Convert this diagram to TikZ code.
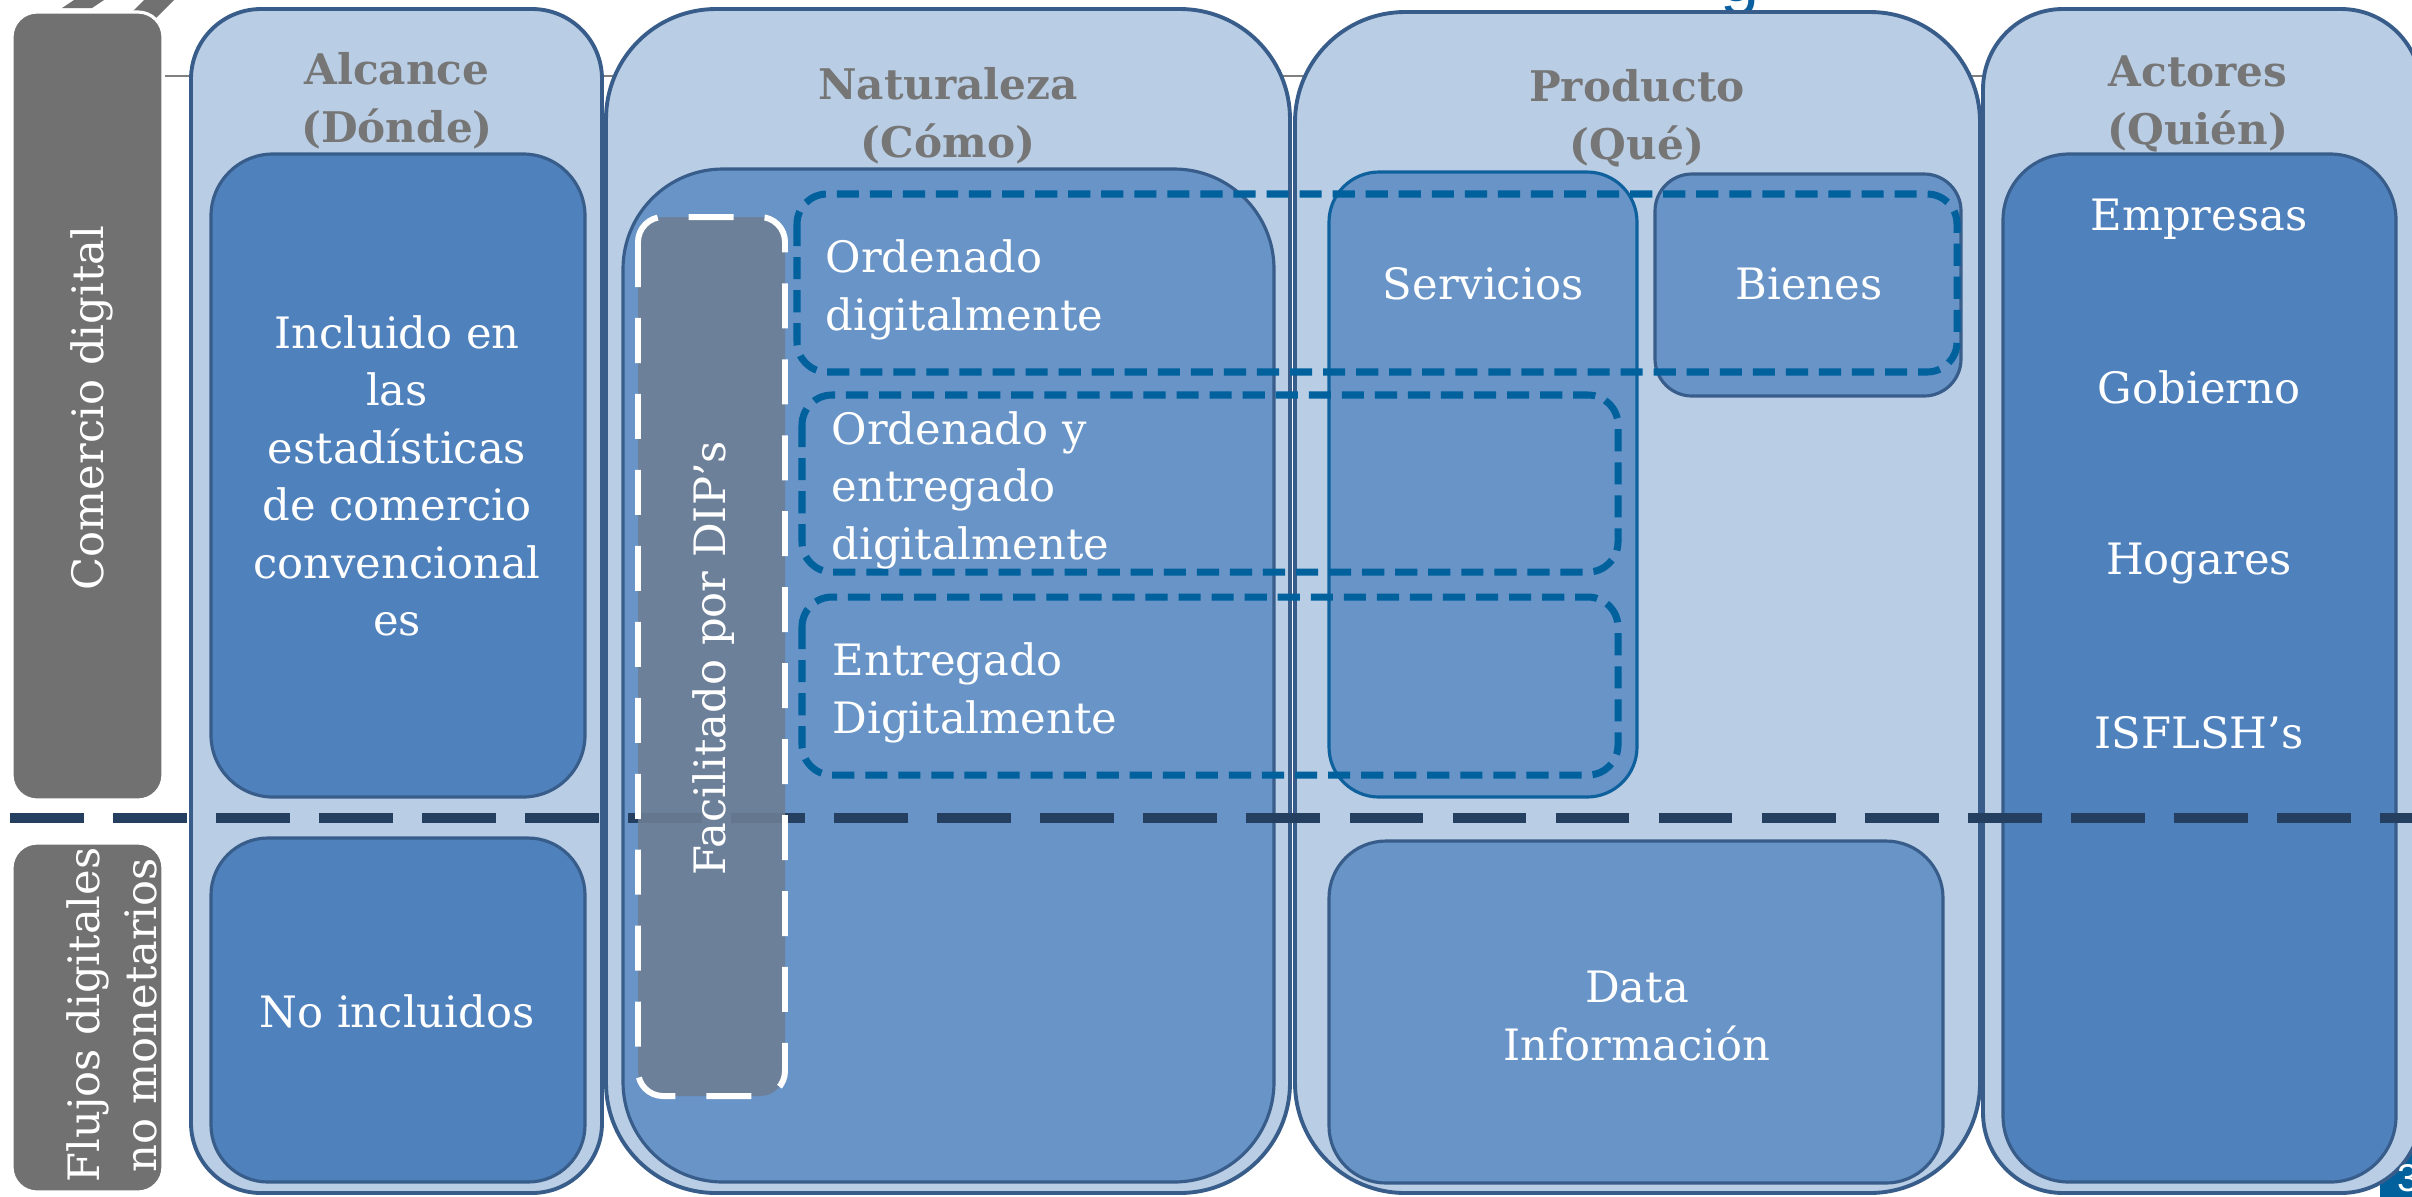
\documentclass[tikz,border=0pt]{standalone}
\usepackage{fontspec}
\setmainfont{DejaVu Serif}
\setsansfont{Liberation Sans}

\definecolor{colLight}{HTML}{B9CDE5}
\definecolor{colBorder}{HTML}{385D8A}
\definecolor{innerDark}{HTML}{4F81BD}
\definecolor{innerMid}{HTML}{6894C7}
\definecolor{servBorder}{HTML}{0F619D}
\definecolor{dashBlue}{HTML}{00619D}
\definecolor{navyLine}{HTML}{243F60}
\definecolor{tabGray}{HTML}{717171}
\definecolor{facGray}{HTML}{6D7E94}
\definecolor{headGray}{HTML}{767676}
\definecolor{titleBlue}{HTML}{0A5FA0}

\begin{document}
\begin{tikzpicture}[x=0.01cm,y=-0.01cm,
    colbox/.style={fill=colLight,draw=colBorder,line width=1.1pt},
    darkbox/.style={fill=innerDark,draw=colBorder,line width=0.9pt},
    midbox/.style={fill=innerMid,draw=colBorder,line width=0.9pt},
    tabbox/.style={fill=tabGray,draw=white,line width=0.9pt,rounded corners=0.25cm},
    dashbox/.style={draw=dashBlue,line width=2pt,dash pattern=on 6.3pt off 3.1pt,rounded corners=0.3cm},
    head/.style={text=headGray,font=\bfseries\fontsize{12}{16.5}\selectfont,align=center,inner sep=0pt},
    txt/.style={text=white,font=\fontsize{12.3}{16.36}\selectfont,align=center,inner sep=0pt}]
    \useasboundingbox (0,0) rectangle (2412,1196);
    \clip (0,0) rectangle (2412,1196);

    % restos del encabezado
    \node[anchor=base,text=titleBlue,font=\sffamily\fontsize{20}{20}\selectfont] (tit) at (1740,1) {g};
    \fill[tabGray] (62,8) -- (92,8) -- (107,-2) -- (77,-2) -- cycle;
    \fill[tabGray] (120,24) -- (150,24) -- (176,-2) -- (146,-2) -- cycle;
    \draw[gray,line width=0.6pt] (165,76) -- (1985,76);

    % pestanas
    \draw[tabbox] (12,12) rectangle (163,800);
    \draw[tabbox] (12,843) rectangle (163,1192);

    % numero de pagina
    \fill[dashBlue] (2380,1148) rectangle (2420,1200);

    % columnas
    \draw[colbox,rounded corners=0.7cm] (191,9) rectangle (602,1193);
    \draw[colbox,rounded corners=1.1cm] (606,9) rectangle (1290,1193);
    \draw[colbox,rounded corners=1.1cm] (1295,12) rectangle (1980,1193);
    \draw[colbox,rounded corners=0.8cm] (1983,9) rectangle (2421,1193);

    % cajas interiores
    \draw[darkbox,rounded corners=0.62cm] (211,154) rectangle (585,797);
    \draw[darkbox,rounded corners=0.57cm] (211,838) rectangle (585,1182);
    \draw[midbox,rounded corners=1.0cm] (623,169) rectangle (1274,1182);
    \draw[midbox,draw=servBorder,rounded corners=0.5cm] (1329,172) rectangle (1637,797);
    \draw[midbox,rounded corners=0.37cm] (1655,174) rectangle (1961,396);
    \draw[midbox,rounded corners=0.57cm] (1329,841) rectangle (1943,1183);
    \draw[darkbox,rounded corners=0.66cm] (2003,154) rectangle (2396,1182);

    % linea divisoria
    \draw[navyLine,line width=3pt,dash pattern=on 21pt off 8.3pt] (10,818) -- (2412,818);

    % facilitado
    \fill[facGray,opacity=0.9,rounded corners=0.25cm] (638,217) rectangle (785,1096);
    \draw[white,line width=1.7pt,dash pattern=on 12.8pt off 8.8pt,rounded corners=0.25cm] (638,217) rectangle (785,1096);

    % cajas punteadas
    \draw[dashbox] (797,194) rectangle (1957,372);
    \draw[dashbox] (802,395) rectangle (1618,572);
    \draw[dashbox] (802,597) rectangle (1618,775);

    % textos
    \node[txt,rotate=90] (comDig) at (92,408) {Comercio digital};
    \node[txt,rotate=90] (flujos) at (112,1015) {Flujos digitales\\no monetarios};

    \node[head] (hAlc) at (397,101) {Alcance\\(Dónde)};
    \node[head] (hNat) at (948,116) {Naturaleza\\(Cómo)};
    \node[head] (hProd) at (1637,118) {Producto\\(Qué)};
    \node[head] (hAct) at (2198,104) {Actores\\(Quién)};

    \node[txt] (incl) at (397,476) {Incluido en\\las\\estadísticas\\de comercio\\convencional\\es};
    \node[txt,anchor=base] (noIncl) at (397,1027) {No incluidos};

    \node[txt,rotate=90] (dip) at (714,658) {Facilitado por DIP’s};
    \node[txt,anchor=west,align=left] (ordDig) at (825,290) {Ordenado\\digitalmente};
    \node[txt,anchor=west,align=left] (ordEnt) at (831,490) {Ordenado y\\entregado\\digitalmente};
    \node[txt,anchor=west,align=left] (entDig) at (832,693) {Entregado\\Digitalmente};

    \node[txt,anchor=base] (serv) at (1483,299) {Servicios};
    \node[txt,anchor=base] (bien) at (1809,299) {Bienes};
    \node[txt] (data) at (1637,1016) {Data\\Información};

    \node[txt,anchor=base] (empr) at (2199,230) {Empresas};
    \node[txt,anchor=base] (gob) at (2199,403) {Gobierno};
    \node[txt,anchor=base] (hog) at (2199,574) {Hogares};
    \node[txt,anchor=base] (isf) at (2199,748) {ISFLSH’s};

    \node[anchor=west,text=white,font=\sffamily\fontsize{11}{11}\selectfont,inner sep=0pt] (pnum) at (2397,1178) {3};
\end{tikzpicture}
\end{document}
